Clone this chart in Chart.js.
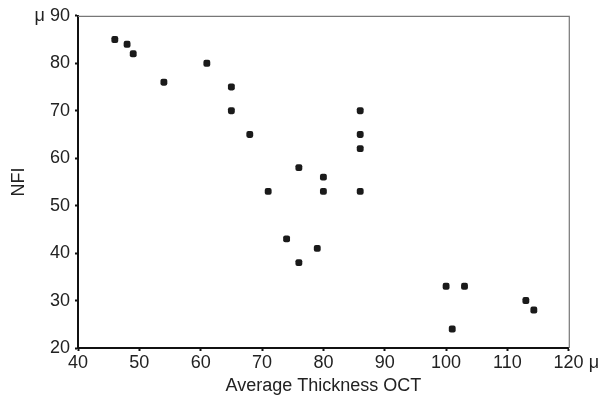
<!DOCTYPE html>
<html>
<head>
<meta charset="utf-8">
<script src="https://cdn.jsdelivr.net/npm/chart.js@4/dist/chart.umd.min.js"></script>
<style>
  html, body { margin: 0; padding: 0; background: #fff; }
  #wrap { width: 600px; height: 401px; }
</style>
</head>
<body>
<div id="wrap"><canvas id="c" width="600" height="401"></canvas></div>
<script>
// Data
const thicknessOCT = [46, 48, 49, 54, 61, 65, 65, 68, 71, 74, 76, 76, 79, 80, 80, 86, 86, 86, 86, 100, 101, 103, 113, 114.3];
const nfiValues    = [85, 84, 82, 76, 80, 75, 70, 65, 53, 43, 58, 38, 41, 56, 53, 70, 65, 62, 53, 33, 24, 33, 30, 28];
const xTickValues = [40, 50, 60, 70, 80, 90, 100, 110, 120];
const yTickValues = [20, 30, 40, 50, 60, 70, 80, 90];
const xTitle = 'Average Thickness OCT';
const yTitle = 'NFI';
const unit = 'μ';

const points = thicknessOCT.map((x, i) => ({ x: x, y: nfiValues[i] }));

const frameLines = {
  id: 'frameLines',
  afterDatasetsDraw(chart) {
    const a = chart.chartArea, ctx = chart.ctx;
    ctx.save();
    ctx.strokeStyle = '#777';
    ctx.lineWidth = 1.2;
    ctx.beginPath();
    ctx.moveTo(a.left, a.top + 0.5);
    ctx.lineTo(a.right + 0.5, a.top + 0.5);
    ctx.lineTo(a.right + 0.5, a.bottom);
    ctx.stroke();
    ctx.restore();
  }
};

const family = '"Liberation Sans", Arial, Helvetica, sans-serif';
const tickFont = { family: family, size: 18 };
const titleFont = { family: family, size: 18 };

new Chart(document.getElementById('c'), {
  type: 'scatter',
  data: {
    datasets: [{
      data: points,
      backgroundColor: '#1a1a1a',
      borderColor: '#1a1a1a',
      borderWidth: 0,
      pointStyle: 'rectRounded',
      pointRadius: 4,
      pointHoverRadius: 4
    }]
  },
  options: {
    responsive: false,
    animation: false,
    layout: { padding: { left: 0, top: 13, right: 29, bottom: 0 } },
    plugins: { legend: { display: false }, tooltip: { enabled: false } },
    scales: {
      x: {
        type: 'linear',
        min: 40, max: 120,
        afterFit(scale) { scale.height = 53; },
        afterBuildTicks(scale) { scale.ticks = xTickValues.map(v => ({ value: v })); },
        border: { color: '#111', width: 2 },
        grid: { drawOnChartArea: false, drawTicks: true, tickLength: 3, tickWidth: 2, tickColor: '#111' },
        ticks: {
          color: '#222', font: tickFont, padding: 1, maxRotation: 0, autoSkip: false,
          callback: v => v === 120 ? '   ' + v + ' ' + unit : String(v)
        },
        title: { display: true, text: xTitle, color: '#222', font: titleFont, padding: { top: 0, bottom: 4 } }
      },
      y: {
        type: 'linear',
        min: 20, max: 90,
        afterFit(scale) { scale.width = 78; },
        afterBuildTicks(scale) { scale.ticks = yTickValues.map(v => ({ value: v })); },
        border: { color: '#111', width: 2 },
        grid: { drawOnChartArea: false, drawTicks: true, tickLength: 3, tickWidth: 2, tickColor: '#111' },
        ticks: {
          color: '#222', font: tickFont, padding: 5, autoSkip: false,
          callback: v => v === 90 ? unit + ' ' + v : String(v)
        },
        title: { display: true, text: yTitle, color: '#222', font: titleFont, padding: { top: 8, bottom: 0 } }
      }
    }
  },
  plugins: [frameLines]
});
</script>
</body>
</html>
